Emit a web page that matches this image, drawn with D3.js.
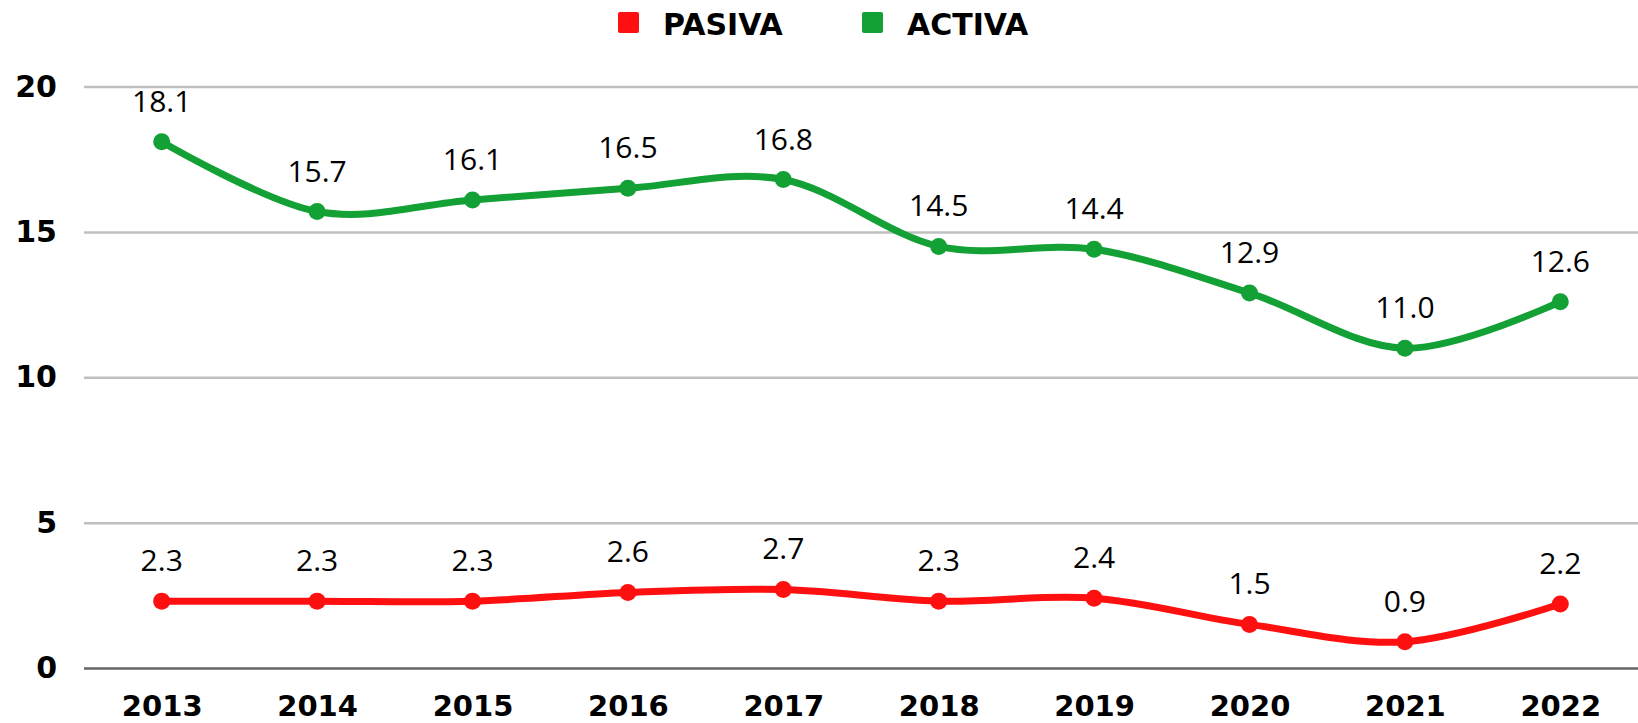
<!DOCTYPE html>
<html>
<head>
<meta charset="utf-8">
<script src="https://cdn.jsdelivr.net/npm/d3@7"></script>
<style>
    html, body { margin: 0; padding: 0; background: #fff; }
    svg { display: block; }
</style>
</head>
<body>
<div id="chart"></div>
<script>
const years = ['2013', '2014', '2015', '2016', '2017', '2018', '2019', '2020', '2021', '2022'];
const pasiva = [2.3, 2.3, 2.3, 2.6, 2.7, 2.3, 2.4, 1.5, 0.9, 2.2];
const activa = [18.1, 15.7, 16.1, 16.5, 16.8, 14.5, 14.4, 12.9, 11.0, 12.6];
const yTicks = [0, 5, 10, 15, 20];

const seriesList = [
    { name: 'PASIVA', values: pasiva, color: '#FF1010' },
    { name: 'ACTIVA', values: activa, color: '#13A035' }
];

const W = 1638, H = 723;
const margin = { top: 86.5, right: 0, bottom: 55, left: 84 }; // plot box
const width = W - margin.left - margin.right;
const height = H - margin.top - margin.bottom;

const svg = d3.select('#chart').append('svg')
    .attr('width', W)
    .attr('height', H);

const g = svg.append('g')
    .attr('transform', `translate(${margin.left},${margin.top})`);

// Scales
const x = d3.scalePoint()
    .domain(years)
    .range([0, width])
    .padding(0.5);

const y = d3.scaleLinear()
    .domain([0, 20])
    .range([height, 0]);

// Gridlines + y labels
const yAxisG = g.append('g')
    .call(d3.axisLeft(y).tickValues(yTicks).tickSize(-width).tickPadding(27).tickFormat(d3.format('d')));
yAxisG.select('.domain').remove();
yAxisG.selectAll('.tick line')
    .attr('stroke', d => d === 0 ? '#666' : '#BFBFBF')
    .attr('stroke-width', 2.5);
yAxisG.selectAll('.tick text')
    .attr('fill', '#000')
    .style('font-family', '"DejaVu Sans", sans-serif')
    .style('font-weight', 'bold')
    .style('font-size', '30px');

// X labels
const xAxisG = g.append('g')
    .attr('transform', `translate(0,${height})`)
    .call(d3.axisBottom(x).tickSize(0).tickPadding(27));
xAxisG.select('.domain').remove();
xAxisG.selectAll('.tick text')
    .attr('fill', '#000')
    .style('font-family', '"DejaVu Sans", sans-serif')
    .style('font-weight', 'bold')
    .style('font-size', '29px');

// Lines
const line = d3.line()
    .x((d, i) => x(years[i]))
    .y(d => y(d))
    .curve(d3.curveCardinal.tension(0));

seriesList.forEach(s => {
    const sg = g.append('g');

    sg.append('path')
        .attr('d', line(s.values))
        .attr('fill', 'none')
        .attr('stroke', s.color)
        .attr('stroke-width', 7)
        .attr('stroke-linecap', 'round');

    sg.selectAll('circle').data(s.values).enter().append('circle')
        .attr('cx', (d, i) => x(years[i]))
        .attr('cy', d => y(d))
        .attr('r', 8.5)
        .attr('fill', s.color);

    sg.selectAll('text').data(s.values).enter().append('text')
        .attr('x', (d, i) => x(years[i]))
        .attr('y', d => y(d) - 30)
        .attr('text-anchor', 'middle')
        .attr('fill', '#000')
        .style('font-family', '"Open Sans", sans-serif')
        .style('font-weight', 500)
        .style('font-size', '30px')
        .text(d => d.toFixed(1));
});

// Legend
const legend = svg.append('g').attr('transform', 'translate(618,12)');
const legendX = [0, 244];
seriesList.forEach((s, i) => {
    const lg = legend.append('g').attr('transform', `translate(${legendX[i]},0)`);
    lg.append('rect')
        .attr('width', 21)
        .attr('height', 21)
        .attr('rx', 2)
        .attr('fill', s.color);
    lg.append('text')
        .attr('x', 45)
        .attr('y', 22.5)
        .attr('fill', '#000')
        .style('font-family', '"DejaVu Sans", sans-serif')
        .style('font-weight', 'bold')
        .style('font-size', '30px')
        .text(s.name);
});
</script>
</body>
</html>
